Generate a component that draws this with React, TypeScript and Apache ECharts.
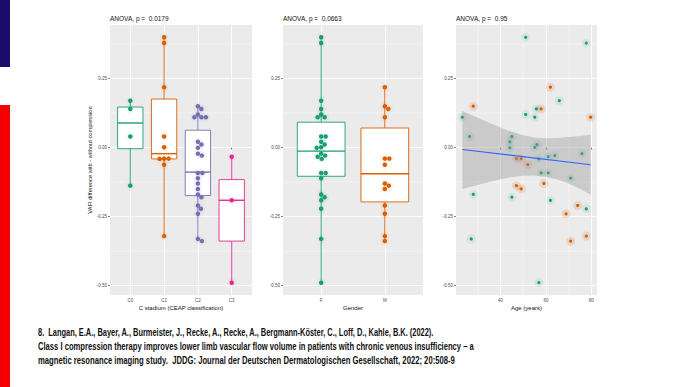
import React, { useEffect, useRef } from "react";
import * as echarts from "echarts";

// ---------- data ----------
const ceapCategories = ["C0", "C1", "C2", "C3"];
const genderCategories = ["F", "M"];

const ceapC0 = [0.17, 0.14, 0.04, -0.138];
const ceapC1 = [0.4, 0.379, 0.219, 0.04, 0.001, -0.04, -0.04, -0.041, -0.062, -0.321];
const ceapC2 = [0.15, 0.14, 0.12, 0.11, 0.11, 0.11, 0.021, 0.011, -0.001, -0.022, -0.029, -0.092, -0.092, -0.111, -0.13, -0.15, -0.17, -0.18, -0.21, -0.222, -0.24, -0.331, -0.339];
const ceapC3 = [-0.033, -0.191, -0.49];
// [lower whisker, q1, median, q3, upper whisker]
const ceapBoxes = [
  [-0.14, -0.004, 0.089, 0.147, 0.17],
  [-0.321, -0.041, -0.022, 0.176, 0.4],
  [-0.339, -0.174, -0.089, 0.063, 0.15],
  [-0.49, -0.339, -0.191, -0.116, -0.041],
];

const genderF = [0.4, 0.379, 0.17, 0.14, 0.12, 0.11, 0.11, 0.04, 0.04, 0.021, 0.011, 0.001, -0.001, -0.022, -0.029, -0.033, -0.041, -0.092, -0.092, -0.111, -0.17, -0.18, -0.191, -0.222, -0.331, -0.49];
const genderM = [0.219, 0.15, 0.14, 0.11, -0.04, -0.04, -0.062, -0.13, -0.138, -0.15, -0.21, -0.24, -0.321, -0.339];
const genderBoxes = [
  [-0.49, -0.104, -0.013, 0.092, 0.4],
  [-0.339, -0.197, -0.095, 0.071, 0.219],
];

const agesF = [51.1, 77.8, 65.9, 55.8, 51.1, 55.1, 23.2, 26.4, 45.0, 44.1, 56.1, 55.1, 44.1, 75.9, 63.9, 61.0, 56.9, 57.9, 61.0, 70.9, 28.0, 45.0, 62.0, 77.8, 27.1, 56.9];
const vafiF = [0.4, 0.379, 0.17, 0.14, 0.12, 0.11, 0.11, 0.04, 0.04, 0.021, 0.011, 0.001, -0.001, -0.022, -0.029, -0.033, -0.041, -0.092, -0.092, -0.111, -0.17, -0.18, -0.191, -0.222, -0.331, -0.49];
const agesM = [62.0, 28.0, 57.9, 79.7, 47.0, 49.1, 52.0, 59.1, 47.0, 49.1, 74.0, 68.9, 77.8, 70.9];
const vafiM = [0.219, 0.15, 0.14, 0.11, -0.04, -0.04, -0.062, -0.13, -0.138, -0.15, -0.21, -0.24, -0.321, -0.339];

const fitAges = [23.2, 79.7];
const fitValues = [-0.007, -0.062];
const bandAges = [23.2, 30, 35, 40, 45, 50, 55, 60, 65, 70, 75, 79.7];
const bandUpper = [0.133, 0.108, 0.09, 0.073, 0.057, 0.045, 0.037, 0.034, 0.035, 0.038, 0.042, 0.047];
const bandLower = [-0.15, -0.136, -0.125, -0.115, -0.107, -0.102, -0.101, -0.106, -0.116, -0.13, -0.149, -0.171];

const yTicks = [-0.5, -0.25, 0, 0.25];
const yMinorTicks = [-0.375, -0.125, 0.125, 0.375];
const ageTicks = [40, 60, 80];
const ageMinorTicks = [30, 50, 70];

const panelTitles = ["ANOVA, p =  0.0179", "ANOVA, p =  0,0663", "ANOVA, p =  0.95"];
const xTitles = ["C stadium (CEAP classification)", "Gender", "Age (years)"];
const yTitle = "VAFI difference with - without compression";
const citation = [
  "8.  Langan, E.A., Bayer, A., Burmeister, J., Recke, A., Recke, A., Bergmann-Köster, C., Loff, D., Kahle, B.K. (2022).",
  "Class I compression therapy improves lower limb vascular flow volume in patients with chronic venous insufficiency – a",
  "magnetic resonance imaging study.  JDDG: Journal der Deutschen Dermatologischen Gesellschaft, 2022; 20:508-9",
];

// ---------- styling ----------
const FONT = "'Liberation Sans', Arial, Helvetica, sans-serif";
const ceapColors = ["#1b9e77", "#d95f02", "#7570b3", "#e7298a"];
const genderColors = ["#1b9e77", "#d95f02"];
const Y_MIN = -0.5345;
const Y_MAX = 0.4445;
const grids = [
  { left: 110, top: 25, width: 142, height: 270 },
  { left: 283, top: 25, width: 140, height: 270 },
  { left: 456, top: 25, width: 141, height: 270 },
];
const citeWidths = [397, 437, 417];

function swarmOffsets(values: number[], yPx: number, xPx: number, diam: number): number[] {
  const order = values.map((_, i) => i).sort((a, b) => values[b] - values[a]);
  const placed: { x: number; y: number }[] = [];
  const offs = new Array(values.length).fill(0);
  for (const i of order) {
    const y = values[i] * yPx;
    let chosen = 0;
    for (let k = 0; k < 400; k++) {
      const cands = k === 0 ? [0] : [k * 0.5, -k * 0.5];
      let ok = false;
      for (const c of cands) {
        if (placed.every((p) => Math.hypot(p.x - c, p.y - y) >= diam)) {
          chosen = c;
          ok = true;
          break;
        }
      }
      if (ok) break;
    }
    placed.push({ x: chosen, y });
    offs[i] = chosen / xPx;
  }
  return offs;
}

function boxRenderer(colors: string[]) {
  return (params: any, api: any) => {
    const x = api.value(0);
    const lo = api.value(1), q1 = api.value(2), med = api.value(3), q3 = api.value(4), hi = api.value(5);
    const color = colors[params.dataIndex];
    const hw = 0.375;
    const pLo = api.coord([x, lo]);
    const pQ1 = api.coord([x, q1]);
    const pQ3 = api.coord([x, q3]);
    const pHi = api.coord([x, hi]);
    const tl = api.coord([x - hw, q3]);
    const br = api.coord([x + hw, q1]);
    const mL = api.coord([x - hw, med]);
    const mR = api.coord([x + hw, med]);
    return {
      type: "group",
      children: [
        { type: "line", shape: { x1: pLo[0], y1: pLo[1], x2: pQ1[0], y2: pQ1[1] }, style: { stroke: color, lineWidth: 0.9 } },
        { type: "line", shape: { x1: pQ3[0], y1: pQ3[1], x2: pHi[0], y2: pHi[1] }, style: { stroke: color, lineWidth: 0.9 } },
        { type: "rect", shape: { x: tl[0], y: tl[1], width: br[0] - tl[0], height: br[1] - tl[1] }, style: { fill: "#ffffff", stroke: color, lineWidth: 0.9 } },
        { type: "line", shape: { x1: mL[0], y1: mL[1], x2: mR[0], y2: mR[1] }, style: { stroke: color, lineWidth: 1.4 } },
      ],
    };
  };
}

function measure(text: string, font: string): number {
  const c = document.createElement("canvas");
  const ctx = c.getContext("2d");
  if (!ctx) return 1;
  ctx.font = font;
  return ctx.measureText(text).width || 1;
}

export default function App() {
  const ref = useRef<HTMLDivElement>(null);
  useEffect(() => {
    document.body.style.margin = "0";
    if (!ref.current) return;
    const chart = echarts.init(ref.current, null, { renderer: "svg" });

    const yPx = 270 / (Y_MAX - Y_MIN);
    const mainY = (gi: number) => ({
      type: "value",
      gridIndex: gi,
      min: Y_MIN,
      max: Y_MAX,
      axisLine: { show: false },
      axisTick: { show: true, length: 2, customValues: yTicks, lineStyle: { color: "#333", width: 0.6 } },
      axisLabel: { customValues: yTicks, formatter: (v: number) => v.toFixed(2), fontSize: 4.5, color: "#4d4d4d", margin: 3, fontFamily: FONT },
      splitLine: { show: true, lineStyle: { color: "#ffffff", width: 0.9 } },
    });
    const minorY = (gi: number) => ({
      type: "value",
      gridIndex: gi,
      min: Y_MIN,
      max: Y_MAX,
      axisLine: { show: false },
      axisTick: { show: false, customValues: yMinorTicks },
      axisLabel: { show: false },
      splitLine: { show: true, lineStyle: { color: "#ffffff", width: 0.45 } },
    });
    const xLabelStyle = { fontSize: 4.5, color: "#4d4d4d", margin: 3, fontFamily: FONT };
    const xTickStyle = { show: true, length: 2, lineStyle: { color: "#333", width: 0.6 } };

    const ceapTicks = ceapCategories.map((_, i) => i + 1);
    const genderTicks = genderCategories.map((_, i) => i + 1);

    const xAxes: any[] = [
      {
        type: "value", gridIndex: 0, min: 0.4, max: ceapCategories.length + 0.6,
        axisLine: { show: false },
        axisTick: { ...xTickStyle, customValues: ceapTicks },
        axisLabel: { ...xLabelStyle, customValues: ceapTicks, formatter: (v: number) => ceapCategories[Math.round(v) - 1] },
        splitLine: { show: true, lineStyle: { color: "#ffffff", width: 0.9 } },
      },
      {
        type: "value", gridIndex: 1, min: 0.4, max: genderCategories.length + 0.6,
        axisLine: { show: false },
        axisTick: { ...xTickStyle, customValues: genderTicks },
        axisLabel: { ...xLabelStyle, customValues: genderTicks, formatter: (v: number) => genderCategories[Math.round(v) - 1] },
        splitLine: { show: true, lineStyle: { color: "#ffffff", width: 0.9 } },
      },
      {
        type: "value", gridIndex: 2, min: 20.4, max: 82.5,
        axisLine: { show: false },
        axisTick: { ...xTickStyle, customValues: ageTicks },
        axisLabel: { ...xLabelStyle, customValues: ageTicks, formatter: (v: number) => String(v) },
        splitLine: { show: true, lineStyle: { color: "#ffffff", width: 0.9 } },
      },
      {
        type: "value", gridIndex: 2, min: 20.4, max: 82.5,
        axisLine: { show: false },
        axisTick: { show: false, customValues: ageMinorTicks },
        axisLabel: { show: false },
        splitLine: { show: true, lineStyle: { color: "#ffffff", width: 0.45 } },
      },
    ];
    const yAxes: any[] = [mainY(0), mainY(1), mainY(2), minorY(0), minorY(1), minorY(2)];

    const series: any[] = [];

    // Panel 1 boxes
    series.push({
      type: "custom", xAxisIndex: 0, yAxisIndex: 0, z: 2, silent: true,
      renderItem: boxRenderer(ceapColors),
      data: ceapBoxes.map((b, i) => [i + 1, ...b]),
    });
    const ceapGroups = [ceapC0, ceapC1, ceapC2, ceapC3];
    const x1Px = 142 / (ceapCategories.length + 0.2);
    ceapGroups.forEach((vals, i) => {
      const offs = swarmOffsets(vals, yPx, x1Px, 4.3);
      const data = vals.map((v, j) => [i + 1 + offs[j], v]);
      series.push({ type: "scatter", xAxisIndex: 0, yAxisIndex: 0, z: 3, silent: true, symbolSize: 9, data, itemStyle: { color: ceapColors[i], opacity: 0.05 } });
      series.push({ type: "scatter", xAxisIndex: 0, yAxisIndex: 0, z: 4, silent: true, symbolSize: 4.5, data, itemStyle: { color: ceapColors[i], opacity: 1 } });
    });

    // Panel 2 boxes
    series.push({
      type: "custom", xAxisIndex: 1, yAxisIndex: 1, z: 2, silent: true,
      renderItem: boxRenderer(genderColors),
      data: genderBoxes.map((b, i) => [i + 1, ...b]),
    });
    const x2Px = 140 / (genderCategories.length + 0.2);
    [genderF, genderM].forEach((vals, i) => {
      const offs = swarmOffsets(vals, yPx, x2Px, 4.3);
      const data = vals.map((v, j) => [i + 1 + offs[j], v]);
      series.push({ type: "scatter", xAxisIndex: 1, yAxisIndex: 1, z: 3, silent: true, symbolSize: 9, data, itemStyle: { color: genderColors[i], opacity: 0.05 } });
      series.push({ type: "scatter", xAxisIndex: 1, yAxisIndex: 1, z: 4, silent: true, symbolSize: 4.5, data, itemStyle: { color: genderColors[i], opacity: 1 } });
    });

    // Panel 3 points
    [[agesF, vafiF], [agesM, vafiM]].forEach(([ages, vals], i) => {
      const data = ages.map((a, j) => [a, vals[j]]);
      series.push({ type: "scatter", xAxisIndex: 2, yAxisIndex: 2, z: 3, silent: true, symbolSize: 9, data, itemStyle: { color: genderColors[i], opacity: i === 0 ? 0.1 : 0.16 } });
      series.push({ type: "scatter", xAxisIndex: 2, yAxisIndex: 2, z: 4, silent: true, symbolSize: 3.2, data, itemStyle: { color: genderColors[i], opacity: 1 } });
    });
    // Confidence band
    series.push({
      type: "custom", xAxisIndex: 2, yAxisIndex: 2, z: 5, silent: true,
      data: bandAges.map((a, i) => [a, bandLower[i], bandUpper[i]]),
      renderItem: (params: any, api: any) => {
        if (params.dataIndex !== 0) return null;
        const up = bandAges.map((a, i) => api.coord([a, bandUpper[i]]));
        const lo = bandAges.map((a, i) => api.coord([a, bandLower[i]])).reverse();
        return {
          type: "polygon",
          shape: { points: [...up, ...lo] },
          style: { fill: "rgba(153,153,153,0.4)", stroke: "none" },
        };
      },
    });
    series.push({
      type: "line", xAxisIndex: 2, yAxisIndex: 2, z: 6, silent: true, symbol: "none",
      data: fitAges.map((a, i) => [a, fitValues[i]]),
      lineStyle: { color: "#3366ff", width: 1.1 },
    });

    const graphics: any[] = [
      { type: "rect", shape: { x: 0, y: 0, width: 10, height: 67 }, style: { fill: "#1a0b6c" } },
      { type: "rect", shape: { x: 0, y: 105, width: 10, height: 282 }, style: { fill: "#f40000" } },
    ];
    grids.forEach((g, i) => {
      graphics.push({
        type: "text", x: g.left, y: 18,
        style: { text: panelTitles[i], fontSize: 6.5, fontFamily: FONT, fill: "#111", verticalAlign: "middle", align: "left" },
      });
      graphics.push({
        type: "text", x: g.left + g.width / 2, y: 308,
        style: { text: xTitles[i], fontSize: 6, fontFamily: FONT, fill: "#111", verticalAlign: "middle", align: "center" },
      });
    });
    graphics.push({
      type: "text", x: 90, y: 160, rotation: Math.PI / 2,
      style: { text: yTitle, fontSize: 5.7, fontFamily: FONT, fill: "#111", verticalAlign: "middle", align: "center" },
    });
    const citeFont = "bold 10px 'Liberation Sans'";
    const citeY = [333, 347, 360.5];
    citation.forEach((line, i) => {
      const w = measure(line, citeFont);
      graphics.push({
        type: "text", x: 38, y: citeY[i], scaleX: citeWidths[i] / w,
        style: { text: line, fontSize: 10, fontWeight: "bold", fontFamily: "'Liberation Sans'", fill: "#111", verticalAlign: "middle", align: "left" },
      });
    });

    chart.setOption({
      animation: false,
      backgroundColor: "#ffffff",
      grid: grids.map((g) => ({ ...g, show: true, backgroundColor: "#ebebeb", borderWidth: 0, containLabel: false })),
      xAxis: xAxes,
      yAxis: yAxes,
      series,
      graphic: graphics,
    });
    return () => chart.dispose();
  }, []);
  return <div ref={ref} style={{ position: "fixed", left: 0, top: 0, width: 687, height: 387 }} />;
}
